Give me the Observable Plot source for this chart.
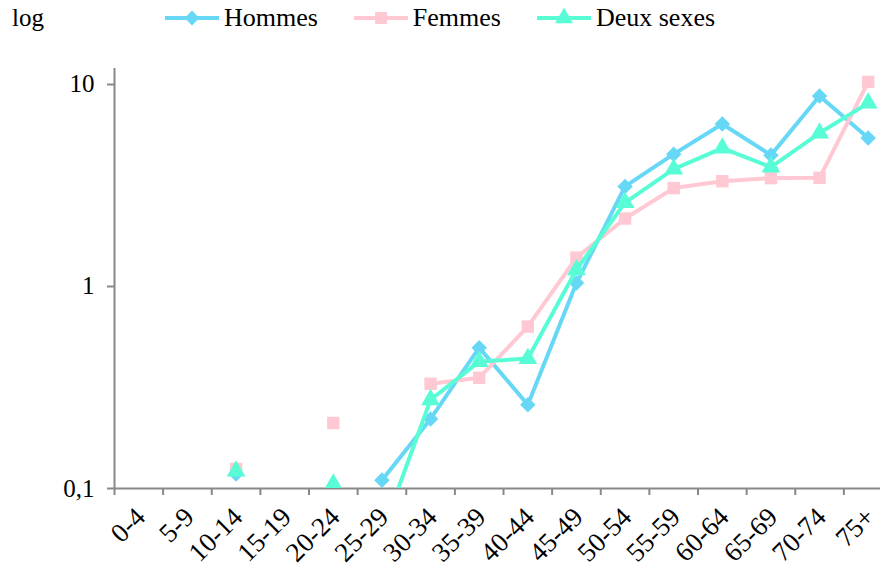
<!DOCTYPE html>
<html><head><meta charset="utf-8">
<script src="https://cdn.jsdelivr.net/npm/d3@7"></script>
<script src="https://cdn.jsdelivr.net/npm/@observablehq/plot@0.6"></script>
<style>
body{margin:0;background:#fff;font-family:"Times New Roman","Liberation Serif","DejaVu Serif",serif;}
#legend{position:relative;height:36px;width:880px;display:flex;justify-content:center;align-items:center;font-size:26px;color:#000;}
#legend .item{display:flex;align-items:center;margin:0 18px;}
#legend .item svg{margin-right:5px;}
#ylab{position:absolute;left:12px;top:4px;font-size:25px;}
</style></head><body>
<div id="legend"><span id="ylab">log</span></div>
<div id="chart"></div>
<script>
// ---- data ----
const categories = ["0-4","5-9","10-14","15-19","20-24","25-29","30-34","35-39","40-44","45-49","50-54","55-59","60-64","65-69","70-74","75+"];
const seriesNames = ["Hommes","Femmes","Deux sexes"];
const hommes = [null,null,0.118,null,null,0.11,0.221,0.498,0.26,1.04,3.13,4.52,6.37,4.47,8.77,5.43];
const femmes = [null,null,0.125,null,0.211,null,0.33,0.353,0.633,1.39,2.17,3.07,3.32,3.44,3.45,10.3];
const deuxSexes = [null,null,0.122,null,0.105,0.06,0.275,0.425,0.44,1.21,2.6,3.81,4.84,3.9,5.75,8.09];
const yTicks = [0.1, 1, 10];
const yTickLabels = ["0,1", "1", "10"];

// ---- styles ----
const FONT = '"Times New Roman","Liberation Serif","DejaVu Serif",serif';
const colors = ["#66D8F6", "#FFC8D2", "#58FDD6"];
const symbols = ["diamond2", "square", "triangle"];
const values = [hommes, femmes, deuxSexes];

// legend (HTML above the svg)
const legend = document.getElementById("legend");
const d3sym = {diamond2: d3.symbolDiamond2, square: d3.symbolSquare, triangle: d3.symbolTriangle};
seriesNames.forEach((name, k) => {
  const item = document.createElement("span");
  item.className = "item";
  const path = d3.symbol(d3sym[symbols[k]], 140)();
  item.innerHTML = `<svg width="54" height="20"><line x1="0" x2="54" y1="10" y2="10" stroke="${colors[k]}" stroke-width="4"/>` +
    `<path transform="translate(27,10)" d="${path}" fill="${colors[k]}"/></svg><span>${name}</span>`;
  legend.appendChild(item);
});

const xCenters = categories.map((_, i) => i + 0.5);
const rows = vals => vals.map((v, i) => ({x: i + 0.5, y: v}));

const seriesMarks = [];
values.forEach((vals, k) => {
  const data = rows(vals);
  seriesMarks.push(Plot.line(data, {x: "x", y: "y", stroke: colors[k], strokeWidth: 4, clip: true}));
  seriesMarks.push(Plot.dot(data.filter(d => d.y != null), {x: "x", y: "y", symbol: () => symbols[k], r: 7, fill: colors[k], stroke: "none", clip: true}));
});

const chart = Plot.plot({
  width: 880, height: 531,
  marginLeft: 114, marginRight: -12, marginTop: 32, marginBottom: 79,
  style: {fontFamily: FONT, fontSize: "25px", color: "black", background: "white", overflow: "visible"},
  x: {type: "linear", domain: [0, 16]},
  y: {type: "log", domain: [0.1, 12]},
  symbol: {type: "identity"},
  marks: [
    Plot.ruleY([yTicks[0]], {stroke: "#888", strokeWidth: 2}),
    Plot.ruleX([0], {stroke: "#888", strokeWidth: 2}),
    Plot.axisY({ticks: yTicks, tickFormat: d => yTickLabels[yTicks.indexOf(d)], tickSize: 7, tickPadding: 13, stroke: "#888", strokeWidth: 2, fill: "black", label: null, fontSize: 25}),
    Plot.axisX({ticks: d3.range(0, categories.length + 1), tickSize: 7, tickFormat: () => "", stroke: "#888", strokeWidth: 2, label: null}),
    Plot.axisX({ticks: xCenters, tickSize: 0, tickFormat: d => categories[Math.round(d - 0.5)], tickRotate: -45, tickPadding: 24, dx: 2, fill: "black", label: null, fontSize: 27}),
    ...seriesMarks
  ]
});
document.getElementById("chart").appendChild(chart);
</script>
</body></html>
